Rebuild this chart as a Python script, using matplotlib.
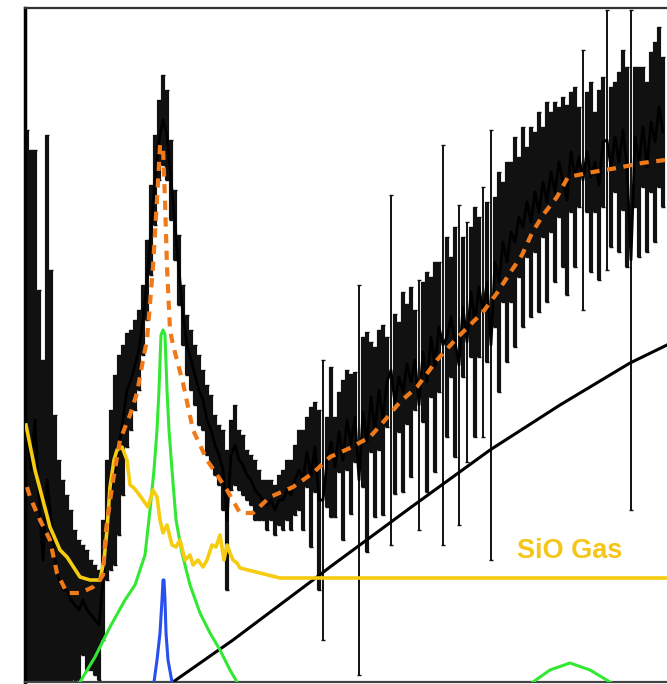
import matplotlib
matplotlib.use("Agg")
import matplotlib.pyplot as plt

# observed spectrum (channel, flux, 1-sigma error), arbitrary units
chan = [2, 6, 10, 14, 18, 22, 26, 30, 34, 38, 42, 46, 50, 54, 58, 62,
        66, 70, 74, 78, 82, 86, 90, 94, 98, 102, 106, 110, 114, 118, 122, 126,
        130, 134, 138, 142, 146, 150, 154, 158, 162, 166, 170, 174, 178, 182, 186, 190,
        194, 198, 202, 206, 210, 214, 218, 222, 226, 230, 234, 238, 242, 246, 250, 254,
        258, 262, 266, 270, 274, 278, 282, 286, 290, 294, 298, 302, 306, 310, 314, 318,
        322, 326, 330, 334, 338, 342, 346, 350, 354, 358, 362, 366, 370, 374, 378, 382,
        386, 390, 394, 398, 402, 406, 410, 414, 418, 422, 426, 430, 434, 438, 442, 446,
        450, 454, 458, 462, 466, 470, 474, 478, 482, 486, 490, 494, 498, 502, 506, 510,
        514, 518, 522, 526, 530, 534, 538, 542, 546, 550, 554, 558, 562, 566, 570, 574,
        578, 582, 586, 590, 594, 598, 602, 606, 610, 614, 618, 622, 626, 630, 634, 638]
flux = [252, 212, 262, 182, 122, 202, 162, 122, 102, 92, 92, 82, 77, 72, 82, 72,
        67, 62, 57, 102, 162, 192, 212, 237, 262, 292, 302, 317, 332, 362, 402, 452,
        502, 542, 562, 547, 502, 457, 412, 367, 337, 322, 307, 292, 282, 262, 252, 237,
        227, 212, 162, 227, 237, 222, 217, 207, 202, 192, 187, 182, 177, 182, 172, 182,
        182, 192, 187, 202, 212, 202, 230, 205, 235, 182, 182, 220, 240, 215, 250, 222,
        262, 238, 265, 202, 270, 240, 285, 250, 292, 262, 300, 312, 278, 305, 290, 318,
        300, 322, 277, 330, 300, 345, 315, 355, 337, 345, 365, 340, 317, 375, 340, 390,
        360, 395, 370, 400, 337, 420, 400, 440, 420, 450, 440, 465, 455, 480, 460, 490,
        470, 500, 480, 510, 490, 520, 500, 482, 530, 505, 525, 502, 530, 505, 520, 497,
        540, 542, 515, 545, 520, 552, 515, 422, 545, 520, 555, 515, 560, 540, 575, 550]
err = [300, 320, 270, 210, 200, 345, 250, 145, 120, 110, 95, 90, 75, 70, 55, 60,
       55, 55, 55, 60, 60, 80, 95, 90, 75, 57, 50, 45, 40, 35, 40, 45,
       45, 40, 45, 45, 40, 35, 35, 30, 30, 30, 30, 35, 30, 35, 35, 30,
       30, 40, 70, 35, 40, 30, 30, 25, 25, 30, 25, 20, 25, 20, 25, 25,
       30, 30, 35, 35, 40, 50, 35, 70, 45, 90, 140, 45, 75, 50, 40, 80,
       50, 70, 45, 195, 75, 110, 55, 85, 60, 95, 45, 175, 90, 55, 100, 60,
       95, 50, 125, 70, 110, 60, 105, 65, 200, 100, 60, 115, 160, 70, 120, 65,
       115, 70, 125, 80, 215, 65, 110, 60, 100, 70, 105, 60, 100, 55, 95, 60,
       100, 55, 100, 60, 90, 55, 85, 95, 60, 90, 50, 130, 60, 95, 50, 95,
       65, 130, 80, 55, 90, 80, 100, 250, 70, 95, 60, 85, 70, 100, 80, 75]

# total model fit
model_x = [2, 5, 15, 25, 32, 42, 55, 68, 75, 78, 81, 87, 95, 105, 112, 118,
           122, 128, 132, 135, 138, 140, 142, 145, 148, 158, 168, 182, 202, 215, 228, 245,
           268, 288, 305, 325, 345, 360, 375, 392, 412, 432, 445, 458, 472, 485, 497, 507,
           518, 532, 543, 568, 592, 617, 640]
model_y = [195, 185, 162, 142, 109, 89, 89, 95, 102, 107, 152, 195, 242, 267, 289, 322,
           342, 415, 482, 537, 535, 482, 415, 352, 337, 299, 252, 222, 192, 169, 169, 185,
           195, 209, 225, 234, 245, 262, 280, 295, 322, 344, 357, 370, 389, 409, 427, 449,
           467, 485, 505, 510, 514, 519, 522]

# SiO gas component
gas_x = [1, 10, 25, 35, 42, 55, 65, 75, 79, 82, 85, 89, 92, 97, 102, 105,
         108, 113, 118, 123, 128, 132, 135, 138, 142, 147, 151, 155, 160, 165, 168, 173,
         178, 182, 187, 191, 195, 199, 202, 205, 208, 212, 215, 235, 255, 275, 642]
gas_y = [257, 212, 155, 132, 125, 105, 102, 102, 122, 152, 195, 222, 232, 235, 222, 197,
         195, 189, 182, 175, 192, 185, 162, 149, 157, 137, 135, 142, 122, 127, 117, 122,
         115, 122, 137, 135, 147, 122, 137, 129, 122, 119, 114, 109, 104, 104, 104]

# broad emission line
line_x = [55, 70, 85, 100, 110, 120, 125, 129, 132, 134, 136, 138, 140, 142, 144, 147,
          151, 157, 165, 175, 185, 195, 205, 212]
line_y = [0, 25, 55, 82, 97, 127, 172, 212, 252, 292, 347, 352, 347, 292, 252, 212,
          162, 129, 97, 69, 49, 32, 12, 0]
bump_x = [508, 525, 545, 565, 585]
bump_y = [0, 12, 19, 12, 0]

# narrow line
narrow_x = [129, 132, 135, 137, 138, 139, 140, 141, 143, 147]
narrow_y = [0, 22, 49, 82, 102, 102, 82, 49, 22, 0]

# dust continuum
cont_x = [148, 208, 292, 305, 385, 465, 535, 605, 642]
cont_y = [0, 42, 105, 115, 174, 232, 277, 319, 337]

fig = plt.figure(figsize=(6.67, 6.84), dpi=100)
ax = fig.add_axes([25 / 667, 2 / 684, 642 / 667, 674 / 684])

_, _, bars = ax.errorbar(chan, flux, yerr=err, fmt='-', color='black', lw=2.0,
                         ecolor='#111111', elinewidth=3.0, capsize=1.6,
                         capthick=1.0, zorder=2)
# isolated noisy channels on the continuum side are drawn thinner
bars[0].set_linewidths([1.4 if (e >= 120 and c > 250) else 3.0
                        for c, e in zip(chan, err)])
ax.plot(cont_x, cont_y, color='black', lw=2.2, zorder=3)
ax.plot(line_x, line_y, color='#33e833', lw=2.2, zorder=4)
ax.plot(bump_x, bump_y, color='#33e833', lw=2.2, zorder=4)
ax.plot(narrow_x, narrow_y, color='#2850f0', lw=2.2, zorder=4)
ax.plot(gas_x, gas_y, color='#f5cc10', lw=2.6, zorder=5)
ax.plot(model_x, model_y, color='#f07a1a', lw=3, dashes=(2.2, 1.8), zorder=6)

ax.text(492, 131, 'SiO Gas', color='#f5c518', fontsize=19.5, fontweight='bold',
        family='Liberation Sans', va='center', ha='left')

ax.set_xlim(0, 642)
ax.set_ylim(0, 674)
ax.set_xticks([])
ax.set_yticks([])
ax.spines['right'].set_visible(False)
ax.spines['left'].set_linewidth(2.5)
ax.spines['top'].set_linewidth(1.6)
ax.spines['top'].set_color('#333333')
ax.spines['bottom'].set_linewidth(1.6)
ax.spines['bottom'].set_color('#444444')

fig.savefig('out.png', dpi=100)
